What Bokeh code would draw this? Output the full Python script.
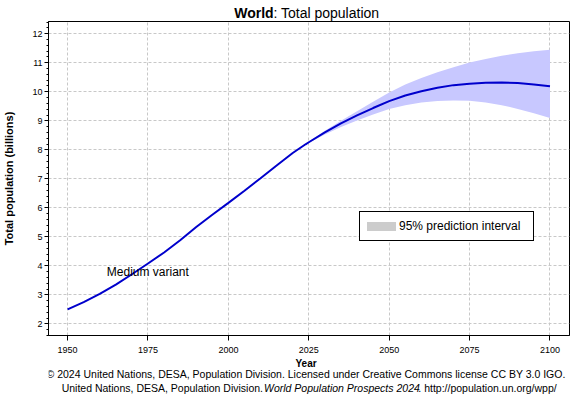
import math
from bokeh.plotting import figure
from bokeh.layouts import column
from bokeh.models import Range1d, FixedTicker, SingleIntervalTicker, Label, Legend, LegendItem
from bokeh.embed import file_html
from bokeh.resources import INLINE

# ---------------- data (billions) ----------------
years = [1950, 1955, 1960, 1965, 1970, 1975, 1980, 1985, 1990, 1995, 2000, 2005,
         2010, 2015, 2020, 2024, 2025, 2030, 2035, 2040, 2045, 2050, 2055, 2060,
         2065, 2070, 2075, 2080, 2085, 2090, 2095, 2100]
medium = [2.50, 2.75, 3.03, 3.35, 3.71, 4.08, 4.46, 4.88, 5.34, 5.76, 6.17, 6.59,
          7.02, 7.46, 7.89, 8.19, 8.26, 8.60, 8.91, 9.19, 9.44, 9.68, 9.87, 10.02,
          10.14, 10.23, 10.28, 10.31, 10.32, 10.30, 10.25, 10.19]
band_years = [2024, 2030, 2035, 2040, 2045, 2050, 2055, 2060, 2065, 2070, 2075,
              2080, 2085, 2090, 2095, 2100]
band_lower = [8.18, 8.53, 8.79, 9.01, 9.22, 9.41, 9.54, 9.63, 9.68, 9.70, 9.69,
              9.63, 9.54, 9.41, 9.26, 9.10]
band_upper = [8.20, 8.66, 9.00, 9.33, 9.66, 9.98, 10.25, 10.48, 10.67, 10.85, 11.01,
              11.13, 11.24, 11.33, 11.40, 11.45]
x_ticks = [1950, 1975, 2000, 2025, 2050, 2075, 2100]

TITLE_BOLD = "World"
TITLE_REST = ": Total population"
Y_LABEL = "Total population (billions)"
X_LABEL = "Year"
SERIES_LABEL = "Medium variant"
LEGEND_LABEL = "95% prediction interval"
FOOT1 = "\u00a9 2024 United Nations, DESA, Population Division. Licensed under Creative Commons license CC BY 3.0 IGO."
FOOT2A = "United Nations, DESA, Population Division. "
FOOT2B = "World Population Prospects 2024"
FOOT2C = ". http://population.un.org/wpp/"

FONT = "Liberation Sans"

# Arial / Liberation Sans advance widths (per 1000 em) for text layout
AR = {' ': 278, '!': 278, '%': 889, '(': 333, ')': 333, ',': 278, '-': 333, '.': 278,
      '/': 278, ':': 278, '\u00a9': 737}
for ch in "0123456789":
    AR[ch] = 556
AR.update(dict(zip("ABCDEFGHIJKLMNOPQRSTUVWXYZ",
                   [667, 667, 722, 722, 667, 611, 778, 722, 278, 500, 667, 556, 833,
                    722, 778, 667, 778, 722, 667, 611, 722, 667, 944, 667, 667, 611])))
AR.update(dict(zip("abcdefghijklmnopqrstuvwxyz",
                   [556, 556, 500, 556, 556, 278, 556, 556, 222, 222, 500, 222, 833,
                    556, 556, 556, 556, 333, 500, 278, 556, 500, 722, 500, 500, 500])))
AB = {'W': 944, 'o': 611, 'r': 389, 'l': 278, 'd': 611}


def tw(s, size, table=AR):
    return sum(table.get(c, 556) for c in s) * size / 1000.0


W = 580
FL, FR = 43, 569     # frame left/right (page px)
TOP_H = 21           # title strip
FRAME_H = 314        # plot frame height (page y 21..335)
BOT_B = 23           # room for x tick labels
MAIN_H = FRAME_H + BOT_B
FOOT_H = 400 - TOP_H - MAIN_H


def text_strip(h):
    # frame spans page x FL..FR, so data x == page x and data y == strip-local y
    f = figure(width=W, height=h, output_backend="svg", toolbar_location=None, title=None,
               x_range=Range1d(FL, FR), y_range=Range1d(h, 0),
               x_axis_type=None, y_axis_type=None,
               min_border_left=FL, min_border_right=W - FR, min_border_top=0,
               min_border_bottom=0,
               background_fill_color="white", border_fill_color="white")
    f.outline_line_color = None
    f.xgrid.visible = False
    f.ygrid.visible = False
    return f


# ---------------- title strip ----------------
top = text_strip(TOP_H)
ts = 14
wb = tw(TITLE_BOLD, ts, AB)
wr = tw(TITLE_REST, ts)
tx0 = 304 - (wb + wr) / 2
ty = 12
top.add_layout(Label(x=tx0, y=ty, text=TITLE_BOLD, text_font=FONT, text_font_size="14px",
                     text_font_style="bold", text_color="black",
                     text_align="left", text_baseline="middle"))
top.add_layout(Label(x=tx0 + wb, y=ty, text=TITLE_REST, text_font=FONT,
                     text_font_size="14px", text_color="black",
                     text_align="left", text_baseline="middle"))

# ---------------- main plot ----------------
p = figure(width=W, height=MAIN_H, output_backend="svg", toolbar_location=None, title=None,
           x_range=Range1d(1944.06, 2106.07), y_range=Range1d(1.597, 12.424),
           min_border_left=FL, min_border_right=W - FR, min_border_top=0,
           min_border_bottom=BOT_B,
           background_fill_color="white", border_fill_color="white")
p.outline_line_color = "black"
p.outline_line_alpha = 1.0
p.outline_line_width = 1

p.xaxis.ticker = FixedTicker(ticks=x_ticks)
p.yaxis.ticker = SingleIntervalTicker(interval=1, num_minor_ticks=5)
for ax in (p.xaxis[0], p.yaxis[0]):
    ax.axis_line_color = "black"
    ax.major_tick_line_color = "black"
    ax.minor_tick_line_color = "black"
    ax.major_tick_in = 0
    ax.minor_tick_in = 0
    ax.major_label_text_font = FONT
    ax.major_label_text_font_size = "9px"
    ax.major_label_text_color = "black"
p.xaxis.axis_label = None
p.xaxis.major_tick_out = 5
p.xaxis.minor_tick_out = 0
p.xaxis.major_label_standoff = 6
p.yaxis.major_tick_out = 4
p.yaxis.minor_tick_out = 2
p.yaxis.major_label_standoff = 2
p.yaxis.axis_label = Y_LABEL
p.yaxis.axis_label_text_font = FONT
p.yaxis.axis_label_text_font_size = "11px"
p.yaxis.axis_label_text_font_style = "bold"
p.yaxis.axis_label_text_color = "black"
p.yaxis.axis_label_standoff = 14

for g in (p.xgrid[0], p.ygrid[0]):
    g.grid_line_color = "#c8c8c8"
    g.grid_line_dash = "3 2"
    g.grid_line_width = 1

p.varea(x=band_years, y1=band_lower, y2=band_upper, fill_color="#c8c8ff", fill_alpha=1.0)
p.line(x=years, y=medium, line_color="#0000cc", line_width=2)

# legend-only renderer (grey swatch); its single point is NaN so nothing is drawn
leg_r = p.line(x=[math.nan], y=[math.nan], line_color="#cccccc", line_width=9,
               line_cap="round")
FB = 335
legend = Legend(items=[LegendItem(label=LEGEND_LABEL, renderers=[leg_r])],
                location=(354 - FL, FB - 241), orientation="vertical",
                border_line_color="black", border_line_width=1, border_line_alpha=1.0,
                background_fill_color="white", background_fill_alpha=1.0,
                label_text_font=FONT, label_text_font_size="12px", label_text_color="black",
                padding=7, margin=0, spacing=0, glyph_width=29, glyph_height=10,
                label_height=10, label_standoff=3, label_width=127)
p.add_layout(legend)

p.add_layout(Label(x=1962.2, y=3.78, text=SERIES_LABEL, text_font=FONT,
                   text_font_size="12px", text_color="black",
                   text_align="left", text_baseline="middle"))

# ---------------- footer strip ----------------
foot = text_strip(FOOT_H)
F0 = TOP_H + MAIN_H   # page y of footer strip top
foot.add_layout(Label(x=303, y=362.7 - F0, text=X_LABEL, text_font=FONT,
                      text_font_size="10px", text_font_style="bold", text_color="black",
                      text_align="center", text_baseline="middle"))
fs = 10.5
foot.add_layout(Label(x=303, y=373.3 - F0, text=FOOT1, text_font=FONT,
                      text_font_size="10.5px", text_color="black",
                      text_align="center", text_baseline="middle"))
w1 = tw(FOOT2A, fs)
w2 = tw(FOOT2B, fs)
w3 = tw(FOOT2C, fs)
x0 = 305.5 - (w1 + w2 + w3) / 2
for txt, xx, style in ((FOOT2A.rstrip(), x0, "normal"),
                       (FOOT2B, x0 + w1, "italic"),
                       (FOOT2C, x0 + w1 + w2, "normal")):
    foot.add_layout(Label(x=xx, y=387.3 - F0, text=txt, text_font=FONT,
                          text_font_size="10.5px", text_font_style=style,
                          text_color="black", text_align="left", text_baseline="middle"))

layout = column(top, p, foot, spacing=0)
open("out.html", "w").write(file_html(layout, INLINE))
